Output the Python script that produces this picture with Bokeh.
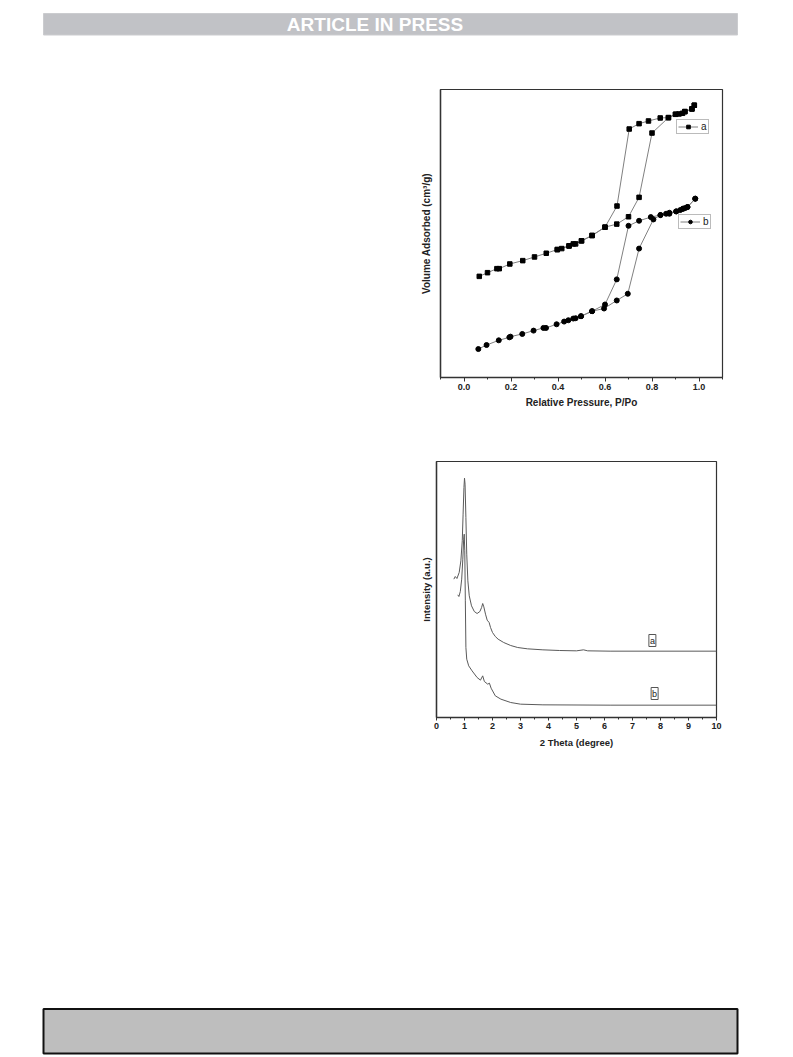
from bokeh.plotting import figure
from bokeh.models import Legend, LegendItem, Label, FixedTicker, Spacer, Range1d, PrintfTickFormatter
from bokeh.layouts import column, row
from bokeh.embed import file_html
from bokeh.resources import INLINE
from bokeh.core.properties import value

FONT = "Liberation Sans"

# ---------------- Chart 1: N2 isotherms ----------------
a_ads_p = [0.065, 0.10, 0.14, 0.15, 0.195, 0.25, 0.30, 0.35, 0.397, 0.416, 0.447, 0.465, 0.475, 0.50,
           0.545, 0.60, 0.65, 0.70, 0.745, 0.80, 0.87, 0.90, 0.915, 0.93, 0.94, 0.97, 0.98]
a_ads_v = [151, 156.5, 162.5, 162.5, 169.5, 174.5, 180, 185.5, 191, 192.5, 196.5, 199.5, 199.5, 204,
           212, 224.5, 229, 240, 269, 365, 388, 393, 393.5, 394.5, 397, 401, 406.5]
a_des_p = [0.98, 0.97, 0.94, 0.90, 0.87, 0.835, 0.785, 0.745, 0.703, 0.651, 0.60, 0.545, 0.50, 0.447, 0.397]
a_des_v = [406.5, 401, 397, 393, 388, 387.5, 383, 379, 371, 256, 224.5, 212, 204, 196.5, 191]

b_ads_p = [0.061, 0.096, 0.148, 0.193, 0.198, 0.248, 0.296, 0.338, 0.349, 0.394, 0.426, 0.444, 0.465,
           0.475, 0.498, 0.545, 0.596, 0.65, 0.697, 0.745, 0.806, 0.836, 0.86, 0.874, 0.903, 0.92,
           0.932, 0.941, 0.951, 0.984]
b_ads_v = [42.5, 48.5, 55.5, 60, 61, 65, 70, 74, 74, 79.5, 83.5, 85.5, 88, 88.5, 91.5, 99, 103, 115,
           125, 192.5, 236, 242.5, 244.5, 246, 248, 250, 252, 253, 254.5, 267]
b_des_p = [0.984, 0.951, 0.932, 0.903, 0.874, 0.836, 0.795, 0.745, 0.70, 0.65, 0.60, 0.545, 0.498]
b_des_v = [267, 254.5, 252, 248, 244.5, 242.5, 239.5, 234, 226.5, 146.5, 109, 99, 91.5]

p_ticks = [0.0, 0.2, 0.4, 0.6, 0.8, 1.0]
p_minor = [-0.1, 0.1, 0.3, 0.5, 0.7, 0.9, 1.1]

# ---------------- Chart 2: XRD ----------------
xrd_a_theta = [0.62, 0.67, 0.73, 0.81, 0.87, 0.92, 0.95, 0.98, 1.0, 1.02, 1.05, 1.08, 1.12, 1.17, 1.25,
               1.35, 1.45, 1.55, 1.61, 1.65, 1.69, 1.75, 1.81, 1.88, 1.93, 2.0, 2.1, 2.2, 2.4, 2.65,
               2.9, 3.25, 3.8, 4.4, 5.0, 5.25, 5.4, 6.2, 10.0]
xrd_a_int = [4150, 4230, 4170, 4350, 4700, 5300, 6100, 6900, 7180, 7000, 6000, 4900, 4100, 3650, 3350,
             3180, 3120, 3180, 3300, 3420, 3320, 3100, 2920, 2850, 2700, 2550, 2430, 2350, 2250, 2160,
             2100, 2060, 2030, 2010, 2000, 2030, 2000, 1990, 1990]
xrd_b_theta = [0.76, 0.80, 0.85, 0.90, 0.94, 0.97, 0.99, 1.01, 1.03, 1.05, 1.08, 1.15, 1.27, 1.45, 1.57,
               1.65, 1.71, 1.83, 1.89, 1.95, 2.1, 2.3, 2.65, 3.0, 3.8, 6.2, 10.0]
xrd_b_int = [3680, 3630, 3780, 4150, 4750, 5350, 5500, 5000, 3500, 2100, 1750, 1550, 1400, 1200, 1120,
             1250, 1080, 1000, 1030, 880, 650, 550, 450, 400, 380, 370, 370]
theta_ticks = list(range(0, 11))
theta_minor = [i + 0.5 for i in range(10)]
xrd_label_theta = [7.71, 7.79]
xrd_label_int = [2310, 720]
xrd_label_text = ["a", "b"]

AX = "#333333"
TXT = "#222222"
PAGE_W = 793


def style(p, xlabel, ylabel, size):
    p.grid.visible = False
    p.outline_line_color = AX
    p.outline_line_width = 1.2
    p.background_fill_color = "white"
    p.border_fill_color = "white"
    for ax in (p.xaxis[0], p.yaxis[0]):
        ax.axis_line_color = AX
        ax.axis_line_width = 1.4
        ax.axis_label_text_font = FONT
        ax.axis_label_text_font_style = "bold"
        ax.axis_label_text_font_size = size
        ax.axis_label_text_color = TXT
        ax.major_label_text_font = FONT
        ax.major_label_text_font_style = "bold"
        ax.major_label_text_font_size = "9px"
        ax.major_label_text_color = TXT
    p.xaxis.axis_label = xlabel
    p.yaxis.axis_label = ylabel
    p.xaxis.major_tick_in = 0
    p.xaxis.major_tick_out = 4
    p.xaxis.minor_tick_in = 0
    p.xaxis.minor_tick_out = 2
    p.xaxis.major_tick_line_color = AX
    p.xaxis.minor_tick_line_color = AX
    p.yaxis.ticker = FixedTicker(ticks=[])
    p.yaxis.major_tick_line_color = None
    p.yaxis.minor_tick_line_color = None
    p.yaxis.major_label_text_font_size = "0px"


# Chart 1 figure (frame at page x 440..722, y 89..377)
p1 = figure(frame_width=282, frame_height=288, x_range=Range1d(-0.1, 1.1), y_range=Range1d(0, 430),
            min_border_left=40, min_border_right=PAGE_W - 400 - 40 - 282, min_border_top=41,
            min_border_bottom=45, toolbar_location=None, output_backend="svg", title=None)
style(p1, "Relative Pressure, P/Po", "Volume Adsorbed (cm\u00b3/g)", "10px")
p1.xaxis.ticker = FixedTicker(ticks=p_ticks, minor_ticks=p_minor)
p1.xaxis.formatter = PrintfTickFormatter(format="%.1f")
p1.xaxis.major_label_standoff = 2
p1.xaxis.axis_label_standoff = 4
p1.yaxis.axis_label_standoff = 9

LC = "#808080"
la1 = p1.line(a_ads_p, a_ads_v, line_color=LC, line_width=1)
p1.line(a_des_p, a_des_v, line_color=LC, line_width=1)
sa1 = p1.scatter(a_ads_p, a_ads_v, marker="square", size=4.5, fill_color="black", line_color="black")
p1.scatter(a_des_p, a_des_v, marker="square", size=4.5, fill_color="black", line_color="black")
lb1 = p1.line(b_ads_p, b_ads_v, line_color=LC, line_width=1)
p1.line(b_des_p, b_des_v, line_color=LC, line_width=1)
sb1 = p1.scatter(b_ads_p, b_ads_v, marker="circle", size=5, fill_color="black", line_color="black")
p1.scatter(b_des_p, b_des_v, marker="circle", size=5, fill_color="black", line_color="black")


def mk_legend(label, rends, loc):
    lg = Legend(items=[LegendItem(label=label, renderers=rends)], location=loc,
                border_line_color="#777777", border_line_width=1, background_fill_color="white",
                padding=1, spacing=0, margin=0, glyph_width=20, glyph_height=9, label_standoff=3,
                label_width=5, label_height=9,
                label_text_font=FONT, label_text_font_size="10px",
                label_text_color=TXT)
    return lg


p1.add_layout(mk_legend("a", [la1, sa1], (236, 243)))
p1.add_layout(mk_legend("b", [lb1, sb1], (238, 148)))

# Chart 2 figure (frame at page x 436..716, y 461..717)
p2 = figure(frame_width=280, frame_height=256, x_range=Range1d(0, 10), y_range=Range1d(0, 7680),
            min_border_left=36, min_border_right=PAGE_W - 400 - 36 - 280, min_border_top=39,
            min_border_bottom=45, toolbar_location=None, output_backend="svg", title=None)
style(p2, "2 Theta (degree)", "Intensity (a.u.)", "9.5px")
p2.xaxis.ticker = FixedTicker(ticks=theta_ticks, minor_ticks=theta_minor)
p2.xaxis.major_tick_out = 3
p2.xaxis.major_label_standoff = 2
p2.xaxis.axis_label_standoff = 5
p2.yaxis.axis_label_standoff = 5

XC = "#5a5a5a"
p2.line(xrd_a_theta, xrd_a_int, line_color=XC, line_width=1)
p2.line(xrd_b_theta, xrd_b_int, line_color=XC, line_width=1)
for tx, ty, tt in zip(xrd_label_theta, xrd_label_int, xrd_label_text):
    p2.add_layout(Label(x=tx, y=ty, text=tt, text_align="center", text_baseline="middle",
                        text_font=FONT, text_font_size="9px", text_color=TXT,
                        border_line_color="#555555", border_line_width=1,
                        background_fill_color="white", padding=1))

# Header (page y 0..48)
hdr = figure(frame_width=PAGE_W, frame_height=48, x_range=Range1d(0, PAGE_W), y_range=Range1d(48, 0),
             min_border=0, x_axis_type=None, y_axis_type=None, toolbar_location=None,
             output_backend="svg", title=None, outline_line_color=None)
hdr.grid.visible = False
hdr.quad(left=[43], right=[737], top=[13], bottom=[34.5], fill_color="#c1c2c6", line_color="#cbcccf")
hdr.text(x=[374.5], y=[24], text=["ARTICLE IN PRESS"], text_align="center", text_baseline="middle",
         text_font=value("Liberation Sans"), text_font_style="bold",
         text_font_size="19px", text_color="white")

# Footer (page y 1000..1057)
ftr = figure(frame_width=PAGE_W, frame_height=57, x_range=Range1d(0, PAGE_W), y_range=Range1d(57, 0),
             min_border=0, x_axis_type=None, y_axis_type=None, toolbar_location=None,
             output_backend="svg", title=None, outline_line_color=None)
ftr.grid.visible = False
ftr.quad(left=[43], right=[737], top=[8.5], bottom=[53], fill_color="#bebebe", line_color="#111111",
         line_width=2)

layout = column(
    hdr,
    row(Spacer(width=400, height=374), p1, spacing=0),
    row(Spacer(width=400, height=340), p2, spacing=0),
    Spacer(width=PAGE_W, height=238),
    ftr,
    spacing=0,
)

open("out.html", "w").write(file_html(layout, INLINE))
